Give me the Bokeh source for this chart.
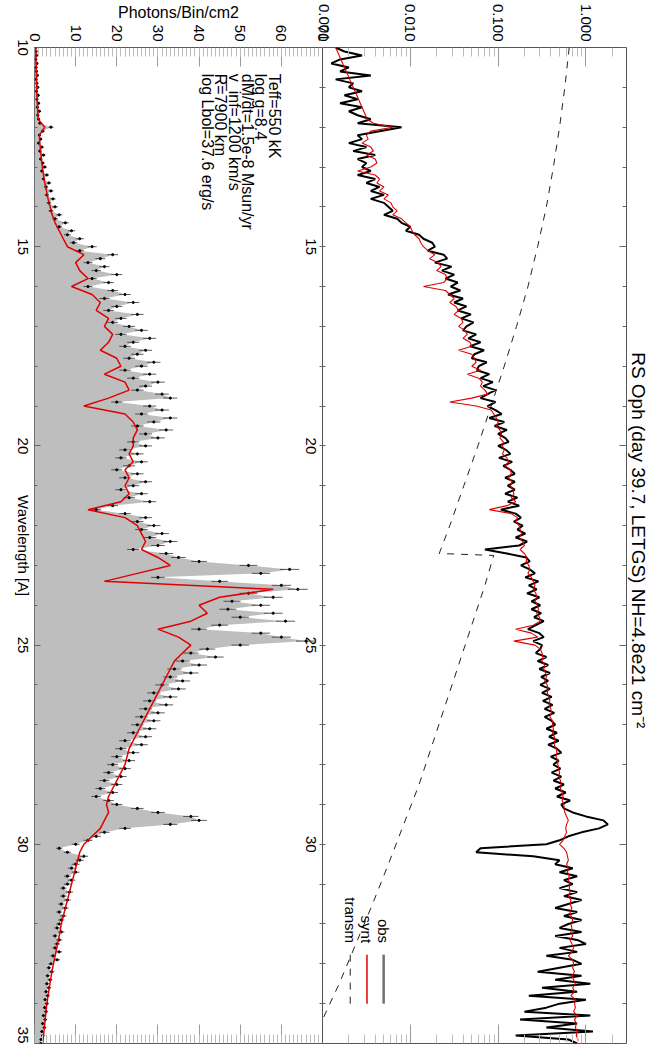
import math
import numpy as np
from bokeh.plotting import figure
from bokeh.models import (Range1d, LinearAxis, LogAxis, LogScale, SingleIntervalTicker, FixedTicker,
                          Title, Span, CustomLabelingPolicy)
from bokeh.embed import file_html
from bokeh.resources import INLINE
from bokeh.core.properties import value

FONT = "Liberation Sans"

# ---------------- data ----------------
lam_start = 10.0
# observed photons/bin/cm2, 0.1 A bins from 10.0 to 35.0
obs_counts = [
    0.3, 0.4, 0.5, 0.3, 0.6, 0.4, 0.5, 0.7, 0.4, 0.6,
    0.8, 0.5, 0.9, 0.6, 1.0, 0.7, 1.2, 0.8, 1.0, 1.3,
    4.0, 2.0, 1.2, 1.5, 1.0, 1.8, 1.3, 2.2, 1.5, 2.0,
    2.5, 1.8, 3.0, 2.2, 3.5, 2.8, 4.0, 3.0, 4.5, 3.5,
    5.0, 4.0, 6.0, 5.0, 7.5, 6.0, 9.0, 8.0, 11.0, 9.5,
    14, 11, 19, 16, 13, 17, 15, 20, 14, 18,
    13, 19, 22, 17, 24, 20, 18, 25, 21, 19,
    23, 26, 21, 28, 24, 22, 27, 25, 23, 29,
    26, 22, 28, 24, 30, 27, 25, 31, 33, 20,
    28, 31, 26, 33, 29, 25, 32, 27, 30, 24,
    27, 22, 25, 21, 26, 23, 20, 25, 22, 27,
    24, 21, 26, 23, 28, 19, 15, 22, 27, 25,
    29, 26, 31, 28, 33, 30, 24, 32, 35, 40,
    52, 62, 55, 30, 45, 60, 64, 52, 58, 48,
    55, 47, 58, 50, 61, 45, 40, 55, 60, 66,
    50, 42, 38, 44, 36, 40, 34, 38, 33, 36,
    31, 35, 29, 33, 28, 32, 27, 30, 26, 29,
    25, 28, 24, 27, 22, 26, 21, 24, 20, 23,
    19, 22, 18, 21, 17, 20, 16, 19, 15, 18,
    20, 25, 30, 38, 40, 33, 22, 17, 15, 13,
    10, 6, 8, 12, 11, 10, 9, 10, 8, 9,
    8, 7, 8.5, 7, 8, 6.5, 7.5, 6, 7, 6.5,
    6, 5.5, 6.5, 5, 6, 5.5, 5, 6, 4.5, 5.5,
    4.0, 3.5, 4.2, 3.2, 3.8, 3.0, 3.5, 2.8, 3.2, 2.6,
    3.0, 2.5, 2.8, 2.2, 2.6, 2.0, 2.4, 1.8, 2.0, 1.6, 1.5,
]
# observed flux (log10), same bins
obs_logflux = [
    -2.85, -2.75, -2.55, -2.8, -2.9, -2.7, -2.8, -2.45, -2.85, -2.65,
    -2.7, -2.55, -2.75, -2.6, -2.8, -2.55, -2.7, -2.6, -2.45, -2.6,
    -2.1, -2.35, -2.6, -2.55, -2.7, -2.5, -2.65, -2.4, -2.6, -2.5,
    -2.55, -2.45, -2.6, -2.4, -2.5, -2.35, -2.45, -2.3, -2.45, -2.3,
    -2.25, -2.2, -2.3, -2.15, -2.1, -2.0, -2.05, -1.9, -1.85, -1.75,
    -1.72, -1.8, -1.62, -1.58, -1.72, -1.53, -1.64, -1.5, -1.6, -1.46,
    -1.54, -1.43, -1.57, -1.4, -1.5, -1.36, -1.46, -1.31, -1.42, -1.28,
    -1.36, -1.4, -1.25, -1.34, -1.2, -1.32, -1.16, -1.27, -1.3, -1.13,
    -1.22, -1.24, -1.1, -1.2, -1.06, -1.17, -1.03, -1.12, -1.2, -1.03,
    -1.12, -1.03, -0.96, -1.1, -0.93, -1.04, -0.9, -1.0, -0.92, -0.88,
    -1.0, -0.91, -0.86, -0.99, -0.84, -0.94, -0.86, -0.81, -0.92, -0.81,
    -0.89, -0.81, -0.92, -0.78, -0.89, -0.76, -0.97, -0.8, -0.74, -0.82,
    -0.72, -0.78, -0.69, -0.8, -0.67, -0.76, -1.15, -0.9, -0.68, -0.64,
    -0.74, -0.64, -0.58, -0.69, -0.54, -0.65, -0.56, -0.67, -0.53, -0.62,
    -0.52, -0.62, -0.51, -0.59, -0.48, -0.57, -0.66, -0.53, -0.48, -0.6,
    -0.5, -0.52, -0.57, -0.45, -0.55, -0.43, -0.53, -0.41, -0.51, -0.43,
    -0.52, -0.41, -0.5, -0.39, -0.49, -0.38, -0.47, -0.36, -0.47, -0.39,
    -0.35, -0.45, -0.33, -0.42, -0.31, -0.43, -0.33, -0.28, -0.4, -0.31,
    -0.37, -0.29, -0.39, -0.28, -0.37, -0.25, -0.35, -0.23, -0.33, -0.18,
    -0.28, -0.25, -0.15, 0.0, 0.2, 0.25, 0.15, -0.05, -0.2, -0.3,
    -0.45, -1.2, -1.25, -0.6, -0.3, -0.35, -0.15, -0.3, -0.1, -0.25,
    -0.15, -0.3, -0.1, -0.25, -0.05, -0.2, -0.35, -0.1, -0.25, -0.05,
    -0.2, -0.3, -0.05, -0.35, -0.1, 0.0, -0.3, -0.1, -0.45, -0.15,
    -0.05, -0.3, -0.55, -0.05, -0.35, 0.05, -0.5, -0.1, -0.65, 0.0,
    -0.3, -0.45, -0.7, 0.05, -0.75, -0.1, -0.45, 0.08, -0.8, -0.2, -0.1,
]
# synthetic flux (log10), same bins
synt_logflux = [
    -2.85, -2.83, -2.81, -2.79, -2.77, -2.75, -2.73, -2.71, -2.69, -2.67,
    -2.65, -2.63, -2.61, -2.59, -2.57, -2.55, -2.53, -2.51, -2.49, -2.42,
    -2.2, -2.45, -2.5, -2.48, -2.55, -2.45, -2.42, -2.5, -2.4, -2.38,
    -2.45, -2.6, -2.4, -2.35, -2.38, -2.3, -2.35, -2.25, -2.3, -2.22,
    -2.2, -2.15, -2.2, -2.1, -2.05, -2.0, -1.98, -1.95, -1.9, -1.88,
    -1.85, -1.8, -1.72, -1.78, -1.68, -1.65, -1.7, -1.6, -1.58, -1.62,
    -1.85, -1.6, -1.55, -1.5, -1.55, -1.48, -1.45, -1.5, -1.42, -1.4,
    -1.45, -1.38, -1.35, -1.4, -1.32, -1.3, -1.45, -1.3, -1.27, -1.25,
    -1.3, -1.2, -1.35, -1.22, -1.18, -1.2, -1.15, -1.12, -1.3, -1.55,
    -1.25, -1.08, -1.05, -1.02, -1.0, -1.02, -0.98, -0.96, -0.98, -0.94,
    -0.95, -0.93, -0.95, -0.9, -0.88, -0.92, -0.86, -0.85, -0.88, -0.84,
    -0.86, -0.83, -0.82, -0.85, -0.8, -0.9, -1.1, -0.85, -0.78, -0.8,
    -0.76, -0.75, -0.73, -0.76, -0.72, -0.7, -0.75, -0.7, -0.67, -0.68,
    -0.65, -0.64, -0.66, -0.62, -0.6, -0.58, -0.6, -0.57, -0.56, -0.58,
    -0.55, -0.54, -0.56, -0.53, -0.52, -0.6, -0.8, -0.62, -0.55, -0.82,
    -0.58, -0.52, -0.5, -0.49, -0.5, -0.47, -0.48, -0.46, -0.45, -0.47,
    -0.44, -0.43, -0.44, -0.42, -0.41, -0.42, -0.4, -0.39, -0.41, -0.38,
    -0.38, -0.37, -0.38, -0.36, -0.35, -0.36, -0.34, -0.33, -0.34, -0.32,
    -0.32, -0.31, -0.3, -0.31, -0.29, -0.28, -0.29, -0.27, -0.26, -0.27,
    -0.25, -0.25, -0.24, -0.22, -0.2, -0.22, -0.23, -0.22, -0.24, -0.26,
    -0.3, -0.25, -0.22, -0.21, -0.2, -0.22, -0.2, -0.21, -0.19, -0.2,
    -0.18, -0.19, -0.18, -0.2, -0.17, -0.18, -0.16, -0.18, -0.17, -0.15,
    -0.17, -0.16, -0.17, -0.15, -0.18, -0.16, -0.14, -0.16, -0.2, -0.15,
    -0.14, -0.15, -0.13, -0.16, -0.14, -0.12, -0.15, -0.13, -0.17, -0.12,
    -0.13, -0.12, -0.14, -0.1, -0.13, -0.11, -0.12, -0.1, -0.11, -0.09, -0.1,
]
# synthetic photons/bin/cm2, 0.2 A steps from 10.0 to 35.0
synt_counts = [
    0.3, 0.35, 0.4, 0.45, 0.5, 0.55, 0.6, 0.7, 0.8, 0.9,
    2.5, 1.2, 1.3, 1.5, 1.7, 1.9, 2.2, 2.5, 2.9, 3.3,
    3.8, 4.3, 5.0, 6.0, 7.0, 8.0, 12, 10, 11, 13,
    9, 14, 16, 15, 18, 17, 19, 18, 16, 20,
    21, 17, 22, 23, 18, 12, 22, 24, 25, 24,
    24, 23, 24, 22, 23, 22, 23, 21, 13, 22,
    25, 26, 27, 26, 30, 33, 25, 17, 58, 45,
    40, 42, 38, 30, 35, 38, 36, 34, 33, 32,
    31, 30, 29, 28, 27, 26, 25, 24, 23, 22.5,
    22, 21, 20, 19, 18, 17.5, 18, 17, 16, 14,
    12, 11, 10.5, 10, 9.5, 9, 8.5, 8, 7.5, 7,
    6.5, 6.2, 5.8, 5.4, 5.0, 4.6, 4.2, 3.9, 3.6, 3.3,
    3.0, 2.8, 2.6, 2.4, 2.2, 2.0,
]
# ISM transmission (log10)
transm_lam = [10, 11, 12, 13, 14, 15, 16, 17, 18, 19, 20, 21, 22, 22.7, 22.75,
              23.5, 24.5, 25.5, 26.5, 27.5, 28.5, 29.3, 30.5, 31.5, 32.5, 33.5, 34.4]
transm_log = [-0.19, -0.24, -0.30, -0.37, -0.45, -0.55, -0.66, -0.79, -0.93, -1.08,
              -1.23, -1.39, -1.55, -1.67, -1.05, -1.15, -1.3, -1.45, -1.6, -1.75,
              -1.9, -2.04, -2.25, -2.43, -2.62, -2.81, -3.0]

photon_ticks = [0, 10, 20, 30, 40, 50, 60, 70]
log_major = [0.001, 0.01, 0.1, 1.0]
lam_ticks = [10, 15, 20, 25, 30, 35]
lam_ticks_inner = [15, 20, 25, 30]
param_lines = ["Teff=550 kK", "log g=8.4", "dM/dt=1.5e-8 Msun/yr",
               "v_inf=1200 km/s", "R=7900 km", "log Lbol=37.6 erg/s"]
legend_names = ["obs", "synt", "transm"]
x_title = "Photons/Bin/cm2"
y_title = "Wavelength [A]"
title_text = "RS Oph (day 39.7, LETGS)   NH=4.8e21 cm\u207b\u00b2"

lam_obs = np.round(lam_start + 0.1 * np.arange(len(obs_counts)), 2)
lam_syn = np.round(lam_start + 0.2 * np.arange(len(synt_counts)), 2)
counts = np.array(obs_counts, dtype=float)
err = 0.3 * np.sqrt(counts)

# ---------------- layout geometry ----------------
W, H = 652, 1047
BL, BR, BT, BB = 34, 26, 45, 4
FRAME_W = W - BL - BR
FRAME_H = H - BT - BB
PH_W = 288                      # pixels of the photon panel
LOG_W = FRAME_W - PH_W          # pixels of the log panel
PH_MAX = 70.0
LOG_MIN, LOG_MAX = 0.001, 2.9
LAM_MIN, LAM_MAX = 10.0, 35.0
X_END = PH_MAX * FRAME_W / PH_W
PPU = PH_W / PH_MAX
PPA = FRAME_H / (LAM_MAX - LAM_MIN)
PX_DEC = LOG_W / math.log10(LOG_MAX / LOG_MIN)
LOG_START = LOG_MIN / 10 ** (PH_W / PX_DEC)
LAB_PX = 15
DIGIT_W = 0.556 * LAB_PX        # Liberation Sans digit advance

FRAME_COLOR = "#555555"
MAJ_TICK = "#9a9a9a"
MIN_TICK = "#bcbcbc"
WL_TICK = "#666666"
RED = "#e00000"

p = figure(width=W, height=H, x_range=Range1d(0, X_END), y_range=Range1d(LAM_MAX, LAM_MIN),
           output_backend="svg", toolbar_location=None, title=None,
           x_axis_location=None, y_axis_location=None,
           min_border_left=BL, min_border_right=BR, min_border_top=BT, min_border_bottom=BB)
p.extra_x_ranges = {"log": Range1d(LOG_START, LOG_MAX)}
p.extra_x_scales = {"log": LogScale()}
p.outline_line_color = FRAME_COLOR
p.grid.grid_line_color = None

HIDE = CustomLabelingPolicy(code="for (const i of indices) indices.unset(i)")

def tick_axis(ax, tin, tmin, color=MAJ_TICK, mcolor=MIN_TICK, hide=True, tout=0):
    ax.major_tick_in = tin
    ax.major_tick_out = tout
    ax.minor_tick_in = tmin
    ax.minor_tick_out = tout
    ax.major_tick_line_color = color
    ax.minor_tick_line_color = mcolor
    ax.axis_line_color = None
    ax.major_label_text_font = FONT
    ax.major_label_text_color = "black"
    if hide:
        ax.major_label_policy = HIDE
        ax.major_label_text_font_size = "1px"
        ax.major_label_standoff = 0
    else:
        ax.major_label_text_font_size = "%dpx" % LAB_PX
        ax.major_label_orientation = -math.pi / 2
    return ax

def label_axis(ticks, overrides, standoff, size=LAB_PX, orient=-math.pi / 2):
    ax = LinearAxis(ticker=FixedTicker(ticks=ticks, minor_ticks=[]),
                    major_label_overrides=overrides)
    ax.major_tick_in = ax.major_tick_out = 0
    ax.minor_tick_in = ax.minor_tick_out = 0
    ax.major_tick_line_color = None
    ax.minor_tick_line_color = None
    ax.axis_line_color = None
    ax.major_label_text_font = FONT
    ax.major_label_text_font_size = "%dpx" % size
    ax.major_label_text_color = "black"
    ax.major_label_orientation = orient
    ax.major_label_standoff = standoff
    return ax

log_minor = [m * d for d in log_major for m in range(2, 10)]

# ---- tick marks pinned to the frame edges (photon and log scales)
for loc, side in ((LAM_MIN, "above"), (LAM_MAX, "below")):
    p.add_layout(tick_axis(LinearAxis(ticker=SingleIntervalTicker(interval=10, num_minor_ticks=10),
                                      bounds=(0, PH_MAX), fixed_location=loc), 19, 9), side)
    p.add_layout(tick_axis(LogAxis(x_range_name="log", bounds=(LOG_MIN, LOG_MAX), fixed_location=loc,
                                   ticker=FixedTicker(ticks=log_major, minor_ticks=log_minor)), 19, 9),
                 side)
p.add_layout(tick_axis(LinearAxis(ticker=SingleIntervalTicker(interval=5, num_minor_ticks=5),
                                  fixed_location=0), 6, 3, color=WL_TICK, mcolor=WL_TICK), "left")
p.add_layout(tick_axis(LinearAxis(ticker=SingleIntervalTicker(interval=5, num_minor_ticks=5),
                                  fixed_location=X_END), 7, 4, color=WL_TICK, mcolor=WL_TICK),
             "right")

# ---- top labels of both panels on one axis (log ticks placed where the log scale puts them)
def log_pos(v):
    return round(PH_MAX + math.log10(v / LOG_MIN) * PX_DEC / PPU, 4)

log_lab_pos = [max(log_pos(v), PH_MAX + 0.25) for v in log_major]
top_ticks = [float(t) for t in photon_ticks] + log_lab_pos
top_over = {float(t): str(t) for t in photon_ticks}
top_over.update({pos: "%.3f" % v for pos, v in zip(log_lab_pos, log_major)})
p.add_layout(label_axis(top_ticks, top_over, 6), "above")
# axis title of the photon panel, one row further out
p.add_layout(label_axis([PH_MAX / 2], {PH_MAX / 2: x_title}, -20, size=16, orient="horizontal"),
             "above")

# ---- left labels: the rotated labels end at their anchor, so anchor them half a label lower
def centred(t, text):
    return round(min(t + len(text) * DIGIT_W / 2 / PPA, LAM_MAX), 4)

left_over = {centred(t, str(t)): str(t) for t in lam_ticks}
yt_pos = round(22.5 + 101.7 / 2 / PPA, 4)      # "Wavelength [A]" is ~101.7 px long
left_over[yt_pos] = y_title
p.add_layout(label_axis(sorted(left_over), left_over, 11), "left")

# ---- boundary between the panels, labelled like the inner axis of the original
p.add_layout(Span(location=PH_MAX, dimension="height", line_color=FRAME_COLOR, line_width=1))
inner_over = {centred(t, str(t)): str(t) for t in lam_ticks_inner}
inner = tick_axis(LinearAxis(ticker=FixedTicker(ticks=sorted(inner_over),
                                                minor_ticks=list(range(11, 35))),
                             major_label_overrides=inner_over, fixed_location=PH_MAX),
                  0, 3, color=WL_TICK, mcolor=WL_TICK, hide=False, tout=3)
inner.major_tick_out = 0
inner.major_label_standoff = 9
p.add_layout(inner, "left")

# ---------------- photon panel ----------------
p.harea(x1=0, x2=counts, y=lam_obs, fill_color="#bebebe", fill_alpha=1.0)
p.segment(x0=counts - err, x1=counts + err, y0=lam_obs, y1=lam_obs,
          line_color="#333333", line_width=0.8)
p.scatter(x=counts, y=lam_obs, size=2.2, color="black")
p.line(x=synt_counts, y=lam_syn, line_color=RED, line_width=1.5)

p.text(x=[58.3] * len(param_lines), y=[10.66] * len(param_lines), text=param_lines,
       x_offset=[-13.4 * i for i in range(len(param_lines))],
       angle=-math.pi / 2, text_align="left", text_baseline="alphabetic",
       text_font=value(FONT), text_font_size="16px", text_color="black")

# ---------------- log flux panel ----------------
p.line(x=10 ** np.array(transm_log), y=transm_lam, x_range_name="log",
       line_color="#222222", line_width=1, line_dash="7 7")
p.line(x=10 ** np.array(obs_logflux), y=lam_obs, x_range_name="log",
       line_color="black", line_width=2)
p.line(x=10 ** np.array(synt_logflux), y=lam_obs, x_range_name="log",
       line_color=RED, line_width=1.1)

leg_x = [0.00497, 0.00321, 0.00207]
p.text(x=leg_x, y=[32.48] * 3, text=legend_names, x_range_name="log", angle=-math.pi / 2,
       text_align="right", text_baseline="middle",
       text_font=value(FONT), text_font_size="15px", text_color="black")
p.segment(x0=leg_x[:2], x1=leg_x[:2], y0=[32.77] * 2, y1=[34.0] * 2, x_range_name="log",
          line_color=["#707070", RED], line_width=[2.5, 1.5])
p.segment(x0=leg_x[2:], x1=leg_x[2:], y0=[32.77], y1=[34.0], x_range_name="log",
          line_color="#222222", line_width=1, line_dash="7 7")

p.add_layout(Title(text=title_text, align="center", text_font=FONT,
                   text_font_size="19px", text_font_style="normal",
                   text_color="black", standoff=2), "right")

open("out.html", "w").write(file_html(p, INLINE))
